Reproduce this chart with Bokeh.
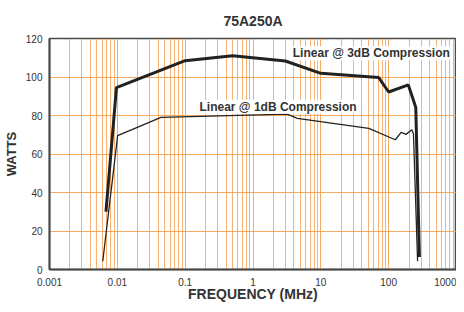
from bokeh.plotting import figure
from bokeh.models import FixedTicker, CustomJSTickFormatter, Label
from bokeh.embed import file_html
from bokeh.resources import INLINE

# ---- data ----
freq_3db = [0.0068, 0.0097, 0.1, 0.5, 3.0, 10, 71, 100, 195, 251, 284]
watts_3db = [30, 94.5, 108.5, 111, 108.3, 101.9, 99.8, 92.2, 95.9, 84.2, 6.5]

freq_1db = [0.0061, 0.0101, 0.044, 3.2, 4.5, 51, 125, 153, 180, 220, 232, 267]
watts_1db = [4.3, 69.5, 79.0, 80.7, 78.5, 73.3, 67.4, 71.2, 70.2, 72.6, 70.4, 4.3]

x_major = [0.001, 0.01, 0.1, 1, 10, 100, 1000]
y_major = [0, 20, 40, 60, 80, 100, 120]

FONT = "Liberation Sans"
TXT = "#333333"
GRID = "#f59a45"
FRAME = "#4a4a4a"

p = figure(width=456, height=304, x_axis_type="log",
           x_range=(0.001, 1000), y_range=(0, 120),
           output_backend="svg", toolbar_location=None,
           min_border_left=48, min_border_right=0,
           min_border_top=38, min_border_bottom=33)

p.title.text = "75A250A"
p.title.align = "center"
p.title.text_font = FONT
p.title.text_font_size = "14px"
p.title.text_font_style = "bold"
p.title.text_color = TXT
p.title.standoff = 19

x_minor = [m * 10.0 ** e for e in range(-3, 3) for m in range(2, 10)]

p.xaxis.ticker = FixedTicker(ticks=x_major)
p.xaxis.formatter = CustomJSTickFormatter(code="return tick.toString();")
p.yaxis.ticker = FixedTicker(ticks=y_major)

p.xgrid.ticker = FixedTicker(ticks=x_major, minor_ticks=x_minor)
p.xgrid.grid_line_color = GRID
p.xgrid.grid_line_alpha = 0.85
p.xgrid.minor_grid_line_color = GRID
p.xgrid.minor_grid_line_alpha = 0.75
p.ygrid.grid_line_color = GRID
p.ygrid.grid_line_alpha = 0.85

for ax in (p.xaxis, p.yaxis):
    ax.major_tick_line_color = None
    ax.minor_tick_line_color = None
    ax.major_tick_out = 0
    ax.major_tick_in = 0
    ax.minor_tick_out = 0
    ax.axis_line_color = FRAME
    ax.axis_line_width = 2
    ax.major_label_text_font = FONT
    ax.major_label_text_font_size = "10px"
    ax.major_label_text_color = TXT
    ax.axis_label_text_font = FONT
    ax.axis_label_text_font_style = "bold"
    ax.axis_label_text_color = TXT

p.xaxis.axis_label = "FREQUENCY (MHz)"
p.xaxis.axis_label_text_font_size = "14px"
p.xaxis.major_label_standoff = 8
p.xaxis.axis_label_standoff = -3
p.yaxis.axis_label = "WATTS"
p.yaxis.axis_label_text_font_size = "13px"
p.yaxis.major_label_standoff = 7
p.yaxis.axis_label_standoff = 4

p.outline_line_color = FRAME
p.outline_line_width = 1.5
p.background_fill_color = "white"
p.border_fill_color = "white"

p.line(freq_1db, watts_1db, line_color="#222222", line_width=1.3)
p.line(freq_3db, watts_3db, line_color="#222222", line_width=3)

lab3 = Label(x=55.5, y=112.4, text="Linear @ 3dB Compression",
             text_align="center", text_baseline="middle",
             text_font=FONT, text_font_size="12px", text_font_style="bold",
             text_color=TXT, background_fill_color="white")
lab1 = Label(x=2.34, y=84.6, text="Linear @ 1dB Compression",
             text_align="center", text_baseline="middle",
             text_font=FONT, text_font_size="12px", text_font_style="bold",
             text_color=TXT, background_fill_color="white")
p.add_layout(lab3)
p.add_layout(lab1)

open("out.html", "w").write(file_html(p, INLINE))
